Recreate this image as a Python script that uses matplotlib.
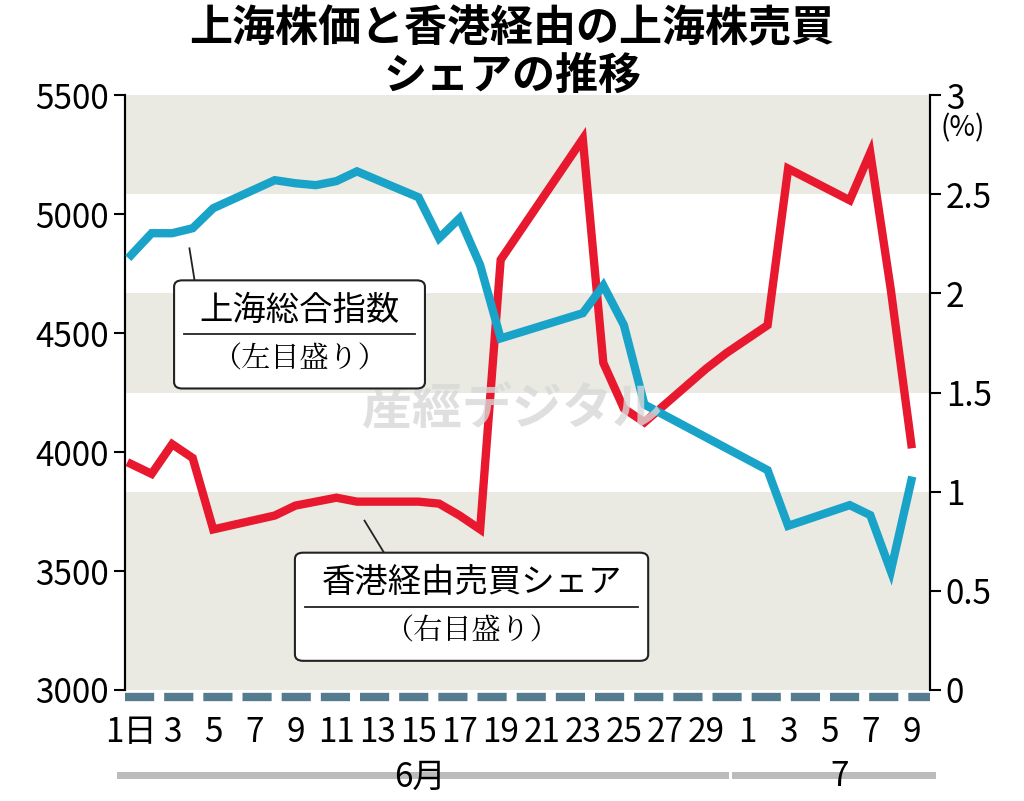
import matplotlib.pyplot as plt
from matplotlib.patches import FancyBboxPatch

plt.rcParams['font.family'] = ['Noto Sans CJK JP', 'DejaVu Sans']

# day index: 0 = June 1, 30 = July 1
sh_days = [0, 1, 2, 3, 4, 7, 8, 9, 10, 11, 14, 15, 16, 17, 18, 22, 23, 24, 25, 31, 32, 35, 36, 37, 38]
sh_index = [4828, 4920, 4920, 4941, 5025, 5143, 5130, 5122, 5139, 5180, 5071, 4899, 4983, 4786, 4478,
            4584, 4700, 4534, 4200, 3924, 3690, 3777, 3735, 3500, 3880]
hk_days = [0, 1, 2, 3, 4, 7, 8, 9, 10, 11, 14, 15, 16, 17, 18, 22, 23, 24, 25, 28, 29, 30, 31, 32, 35, 36, 37, 38]
hk_share = [1.14, 1.09, 1.24, 1.17, 0.81, 0.88, 0.93, 0.95, 0.97, 0.95, 0.95, 0.94, 0.88, 0.81, 2.17,
            2.78, 1.65, 1.42, 1.35, 1.62, 1.70, 1.77, 1.84, 2.63, 2.47, 2.71, 2.02, 1.24]
tick_pos = list(range(0, 30, 2)) + [30, 32, 34, 36, 38]
tick_lab = ['1日'] + [str(d) for d in range(3, 30, 2)] + ['1', '3', '5', '7', '9']

fig = plt.figure(figsize=(10.24, 8.01), dpi=100)
ax = fig.add_axes([0.122, 0.1386, 0.786, 0.7425])
ax2 = ax.twinx()

ax.set_xlim(-0.3, 38.9)
ax.set_ylim(3000, 5500)
ax2.set_ylim(0, 3)

# background bands (by right axis)
for lo, hi in [(0, 0.5), (0.5, 1), (1.5, 2), (2.5, 3)]:
    ax2.axhspan(lo, hi, color='#ebeae2', lw=0, zorder=0)

ax.plot(sh_days, sh_index, color='#1aa3c8', lw=6, solid_joinstyle='miter', zorder=3)
ax2.plot(hk_days, hk_share, color='#e8182e', lw=6, solid_joinstyle='miter', zorder=3)
ax.set_zorder(ax2.get_zorder() + 1)
ax.patch.set_visible(False)

ax.set_yticks([3000, 3500, 4000, 4500, 5000, 5500])
ax2.set_yticks([0, 0.5, 1, 1.5, 2, 2.5, 3])
ax2.set_yticklabels(['0', '0.5', '1', '1.5', '2', '2.5', '3'])
ax.tick_params(axis='y', labelsize=24, length=8, width=1.5, direction='out')
ax2.tick_params(axis='y', labelsize=24, length=8, width=1.5)
ax.set_xticks(tick_pos)
ax.set_xticklabels(tick_lab)
ax.tick_params(axis='x', length=0, labelsize=24, pad=18)
for a in (ax, ax2):
    for s in ['top', 'bottom']:
        a.spines[s].set_visible(False)
    a.spines['left'].set_linewidth(1.5)
    a.spines['right'].set_linewidth(1.5)

# dashed base bar
ax.plot([-0.3, 38.9], [-0.012, -0.012], transform=ax.get_xaxis_transform(), clip_on=False,
        color='#557c8e', lw=6, dashes=(3.5, 1.2))

fig.text(0.5, 0.965, '上海株価と香港経由の上海株売買', ha='center', va='center', fontsize=31, fontweight='bold')
fig.text(0.5, 0.905, 'シェアの推移', ha='center', va='center', fontsize=31, fontweight='bold')
fig.text(0.94, 0.84, '(%)', ha='center', va='center', fontsize=20)

# month bars
fig.add_artist(plt.Line2D([0.117, 0.708], [0.032, 0.032], color='#bbbbbb', lw=5))
fig.add_artist(plt.Line2D([0.718, 0.91], [0.032, 0.032], color='#bbbbbb', lw=5))
fig.text(0.41, 0.03, '6月', ha='center', va='center', fontsize=24)
fig.text(0.82, 0.03, '7', ha='center', va='center', fontsize=24)

# watermark
fig.text(0.5, 0.49, '産經デジタル', ha='center', va='center', fontsize=36, fontweight='bold',
         color='#d8d8d8', alpha=0.8, zorder=1)


def label_box(x0, y0, w, h, line1, line2, leader):
    box = FancyBboxPatch((x0, y0), w, h, boxstyle='round,pad=0,rounding_size=0.008',
                         transform=fig.transFigure, fc='white', ec='#222222', lw=1.5, zorder=10)
    fig.add_artist(box)
    fig.text(x0 + w / 2, y0 + h * 0.72, line1, ha='center', va='center', fontsize=24, zorder=11)
    fig.text(x0 + w / 2, y0 + h * 0.27, line2, ha='center', va='center', fontsize=21, zorder=11,
             family=['Noto Serif CJK JP', 'Noto Sans CJK JP'])
    fig.add_artist(plt.Line2D([x0 + 0.01, x0 + w - 0.01], [y0 + h * 0.5] * 2, color='#222222', lw=1.3, zorder=11))
    fig.add_artist(plt.Line2D(leader[0], leader[1], color='#222222', lw=1.3, zorder=9))


label_box(0.17, 0.515, 0.245, 0.135, '上海総合指数', '（左目盛り）', ([0.19, 0.185], [0.65, 0.69]))
label_box(0.288, 0.175, 0.345, 0.135, '香港経由売買シェア', '（右目盛り）', ([0.375, 0.356], [0.31, 0.35]))

fig.savefig('out.png', dpi=100)
